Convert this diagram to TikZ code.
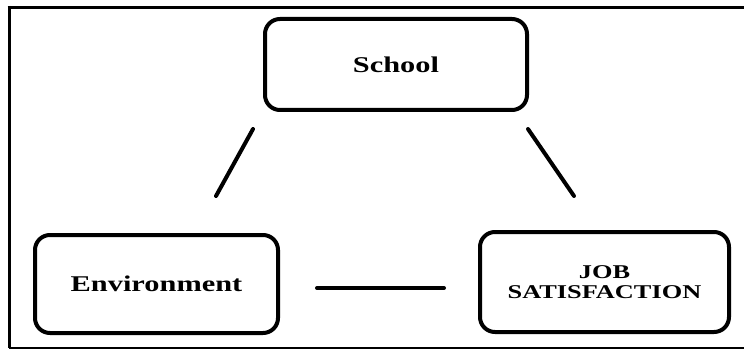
\documentclass[tikz,border=0pt]{standalone}
\usepackage{fontspec}
\newfontfamily\boxfont[FakeStretch=1.35]{Liberation Serif}
\usetikzlibrary{positioning, calc}

\begin{document}
\begin{tikzpicture}[x=1pt, y=-1pt,
  every node/.style={rectangle, rounded corners=15pt, draw=black, line width=4pt,
                     align=center, inner sep=0pt, font=\boxfont\bfseries\fontsize{22.5}{26}\selectfont},
  link/.style={line width=4pt, line cap=round, black}
]
\useasboundingbox (0,0) rectangle (744,350);
% frame
\draw[line width=3pt] (7.5,7.5) -- (744,7.5);
\draw[line width=3pt] (9,6) -- (9,348);
\draw[line width=1.4pt] (9,347.8) -- (744,347.8);
% boxes
\node[minimum width=262pt, minimum height=91pt] (school) at (396,64.5) {School};
\node[minimum width=243pt, minimum height=98pt] (env) at (156.5,284) {\raisebox{-4pt}{Environment}};
\node[minimum width=249pt, minimum height=100pt,
      font=\boxfont\bfseries\fontsize{19.5}{20}\selectfont] (job) at (604.5,282) {JOB\\SATISFACTION};
% links
\draw[link] ($(school.south west)+(-10,17)$) -- ($(env.north)+(59.5,-37)$);
\draw[link] ($(school.south east)+(-1,17)$) -- ($(job.north)+(-30.5,-34)$);
\draw[link] ($(env.east)+(37,4)$) -- ($(job.west)+(-34,6)$);
\end{tikzpicture}
\end{document}
